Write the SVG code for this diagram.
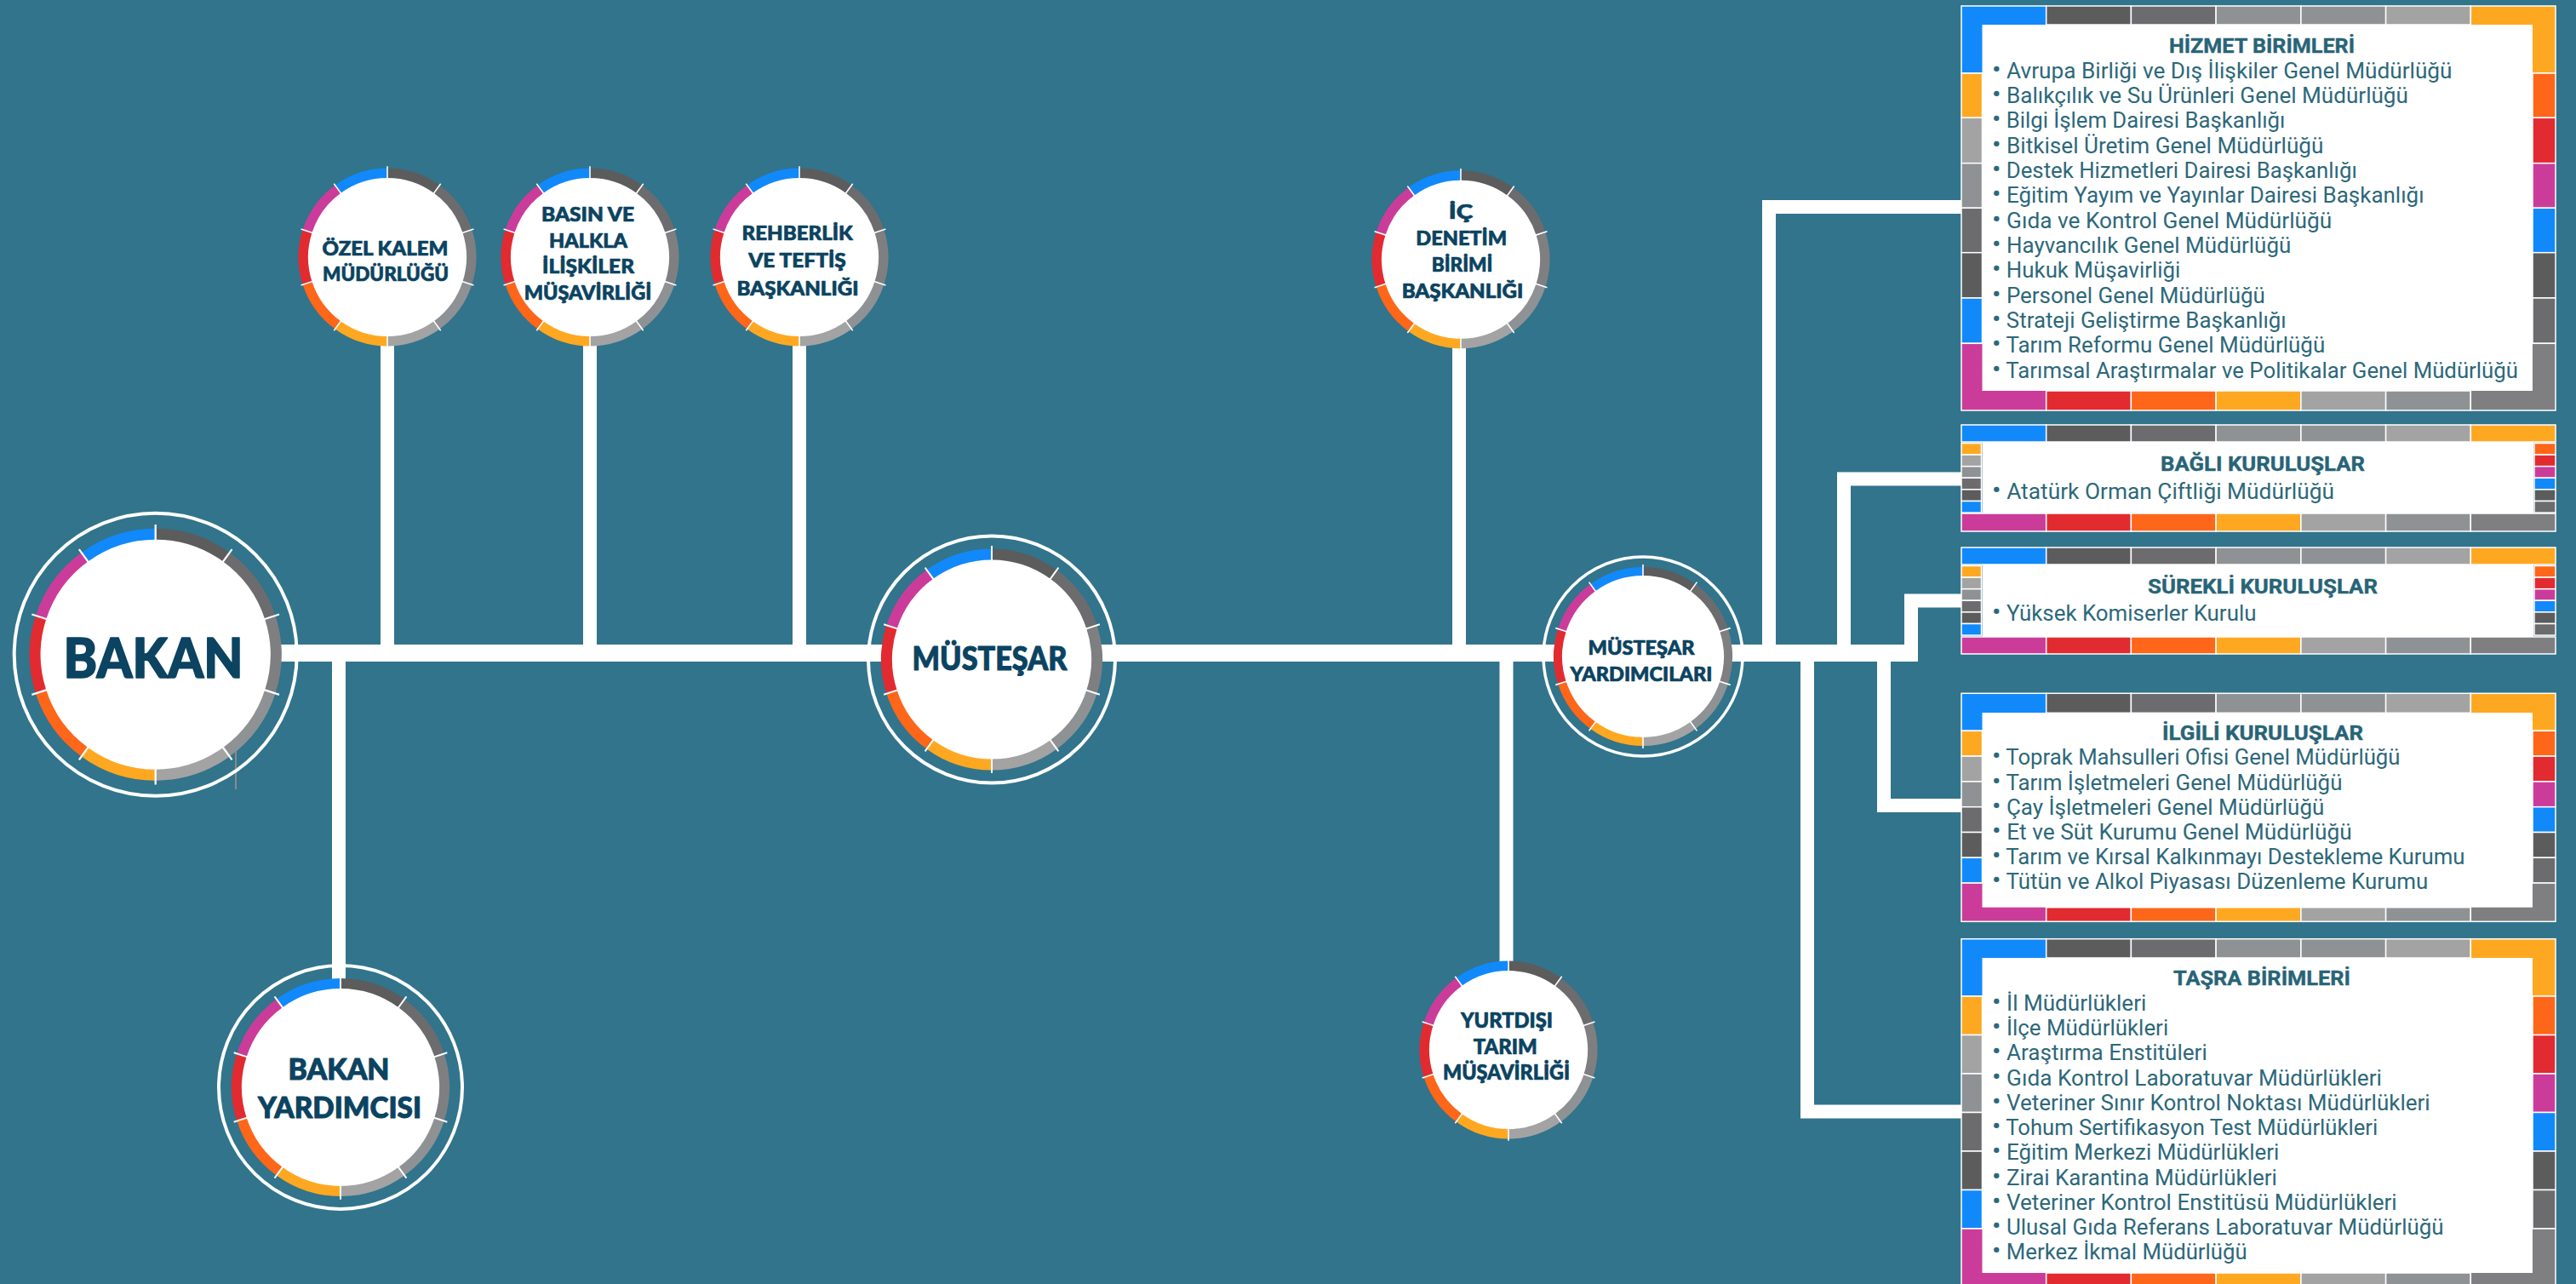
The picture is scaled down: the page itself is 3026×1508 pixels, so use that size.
<svg xmlns="http://www.w3.org/2000/svg" xmlns:xlink="http://www.w3.org/1999/xlink" width="3026" height="1508" viewBox="0 0 3026 1508">
<style>
.s0{stroke:#5c5c5d}.s1{stroke:#6c6c6e}.s2{stroke:#7f7f81}.s3{stroke:#8f9294}.s4{stroke:#a3a3a3}
.s5{stroke:#fea822}.s6{stroke:#fe661a}.s7{stroke:#e12b30}.s8{stroke:#cb3c9a}.s9{stroke:#1189fb}
.sep{stroke:#fff;stroke-width:1.6;fill:none}
.halo{fill:none;stroke:#fff}
.disc{fill:#fff}
.ln{fill:none;stroke:#fff;stroke-linejoin:miter;stroke-linecap:butt}
.ct{font-family:Lato,'Open Sans',sans-serif;font-weight:900;fill:#0b4361;stroke:#0b4361;stroke-width:0.7px;stroke-linejoin:round;text-anchor:middle}
.bt{font-family:'Liberation Sans Narrow',Roboto,'Liberation Sans',sans-serif;font-weight:700;fill:#286477;stroke:#286477;stroke-width:0.4px;text-anchor:middle;font-size:24px}
.it{font-family:'Liberation Sans Narrow',Roboto,'Liberation Sans',sans-serif;fill:#2d687a;font-size:25px}
.bu{font-size:30px}
.fr rect{stroke:#fff;stroke-width:1.5}
.fr rect.in{fill:#fff;stroke:none}
.B{fill:#1189fb}.D1{fill:#5c5c5d}.D2{fill:#6c6c6e}.G0{fill:#7f7f81}.G1{fill:#8f9294}.L{fill:#a3a3a3}
.Y{fill:#fea822}.O{fill:#fe661a}.R{fill:#e12b30}.M{fill:#cb3c9a}
</style>
<defs>
<g id="ring" fill="none">
<path class="s0" d="M0,-100A100,100 0 0 1 58.78,-80.9"/>
<path class="s1" d="M58.78,-80.9A100,100 0 0 1 95.11,-30.9"/>
<path class="s2" d="M95.11,-30.9A100,100 0 0 1 95.11,30.9"/>
<path class="s3" d="M95.11,30.9A100,100 0 0 1 58.78,80.9"/>
<path class="s4" d="M58.78,80.9A100,100 0 0 1 0,100"/>
<path class="s5" d="M0,100A100,100 0 0 1 -58.78,80.9"/>
<path class="s6" d="M-58.78,80.9A100,100 0 0 1 -95.11,30.9"/>
<path class="s7" d="M-95.11,30.9A100,100 0 0 1 -95.11,-30.9"/>
<path class="s8" d="M-95.11,-30.9A100,100 0 0 1 -58.78,-80.9"/>
<path class="s9" d="M-58.78,-80.9A100,100 0 0 1 0,-100"/>
<path class="sep" d="M0,-92V-108M54.08,-74.43L63.48,-87.37M87.5,-28.43L102.72,-33.37M87.5,28.43L102.72,33.37M54.08,74.43L63.48,87.37M0,92V108M-54.08,74.43L-63.48,87.37M-87.5,28.43L-102.72,33.37M-87.5,-28.43L-102.72,-33.37M-54.08,-74.43L-63.48,-87.37"/>
</g>
</defs>
<rect x="0" y="0" width="3026" height="1508" fill="#31748c"/>

<g id="connectors">
<path class="ln" stroke-width="20" d="M182,767H2253"/>
<path class="ln" stroke-width="16" d="M455,767V380M693,767V380M939,767V380M1714,767V380"/>
<path class="ln" stroke-width="16" d="M398,767V1160M1769.5,767V1140"/>
<path class="ln" stroke-width="16" d="M2078,777V243H2305"/>
<path class="ln" stroke-width="16" d="M2166,777V562.5H2305"/>
<path class="ln" stroke-width="16" d="M2245,777V705.5H2305"/>
<path class="ln" stroke-width="16" d="M2213,767V946H2305"/>
<path class="ln" stroke-width="16" d="M2123,767V1305.5H2305"/>
<path d="M277,878V927" stroke="#8a8a8a" stroke-width="2"/>
</g>

<g id="bakan">
<circle class="halo" cx="182.7" cy="768.7" r="166" stroke-width="4"/>
<circle class="disc" cx="182.7" cy="768.7" r="136"/>
<use xlink:href="#ring" transform="translate(182.7 768.7) scale(1.415)" style="stroke-width:9.2"/>
<text class="ct" x="180" y="796" font-size="65" style="stroke-width:1.6px" textLength="211" lengthAdjust="spacingAndGlyphs">BAKAN</text>
</g>

<g id="bakan-yardimcisi">
<circle class="halo" cx="400" cy="1277" r="143" stroke-width="4"/>
<circle class="disc" cx="400" cy="1277" r="117"/>
<use xlink:href="#ring" transform="translate(400 1277) scale(1.22)" style="stroke-width:9.8"/>
<text class="ct" x="398" y="1268.3" font-size="34" style="stroke-width:1px" textLength="119" lengthAdjust="spacingAndGlyphs">BAKAN</text>
<text class="ct" x="399" y="1313.3" font-size="34" style="stroke-width:1px" textLength="192" lengthAdjust="spacingAndGlyphs">YARDIMCISI</text>
</g>

<g id="ozel-kalem">
<circle class="disc" cx="455" cy="302" r="94"/>
<use xlink:href="#ring" transform="translate(455 302) scale(0.9875)" style="stroke-width:11.6"/>
<text class="ct" x="452.5" y="300" font-size="23" textLength="148" lengthAdjust="spacingAndGlyphs">ÖZEL KALEM</text>
<text class="ct" x="453" y="330" font-size="23" textLength="148" lengthAdjust="spacingAndGlyphs">MÜDÜRLÜĞÜ</text>
</g>

<g id="basin">
<circle class="disc" cx="693" cy="302" r="94"/>
<use xlink:href="#ring" transform="translate(693 302) scale(0.9875)" style="stroke-width:11.6"/>
<text class="ct" x="690.5" y="260" font-size="23" textLength="109" lengthAdjust="spacingAndGlyphs">BASIN VE</text>
<text class="ct" x="691" y="290.6" font-size="23" textLength="92" lengthAdjust="spacingAndGlyphs">HALKLA</text>
<text class="ct" x="691" y="321.2" font-size="23" textLength="108" lengthAdjust="spacingAndGlyphs">İLİŞKİLER</text>
<text class="ct" x="690.5" y="351.8" font-size="23" textLength="149.6" lengthAdjust="spacingAndGlyphs">MÜŞAVİRLİĞİ</text>
</g>

<g id="rehberlik">
<circle class="disc" cx="939" cy="302" r="94"/>
<use xlink:href="#ring" transform="translate(939 302) scale(0.9875)" style="stroke-width:11.6"/>
<text class="ct" x="936.7" y="281.7" font-size="23" textLength="130.4" lengthAdjust="spacingAndGlyphs">REHBERLİK</text>
<text class="ct" x="936.5" y="314.3" font-size="23" textLength="114.7" lengthAdjust="spacingAndGlyphs">VE TEFTİŞ</text>
<text class="ct" x="937" y="346.7" font-size="23" textLength="143" lengthAdjust="spacingAndGlyphs">BAŞKANLIĞI</text>
</g>

<g id="mustesar">
<circle class="halo" cx="1165" cy="774.5" r="145" stroke-width="4"/>
<circle class="disc" cx="1165" cy="774.5" r="118"/>
<use xlink:href="#ring" transform="translate(1165 774.5) scale(1.235)" style="stroke-width:10.5"/>
<text class="ct" x="1162.5" y="786.7" font-size="37" style="stroke-width:1px" textLength="182" lengthAdjust="spacingAndGlyphs">MÜSTEŞAR</text>
</g>

<g id="ic-denetim">
<circle class="disc" cx="1716" cy="304.7" r="94"/>
<use xlink:href="#ring" transform="translate(1716 304.7) scale(0.9875)" style="stroke-width:11.6"/>
<text class="ct" x="1716" y="257.3" font-size="23" textLength="28.3" lengthAdjust="spacingAndGlyphs">İÇ</text>
<text class="ct" x="1716.7" y="288.2" font-size="23" textLength="106.7" lengthAdjust="spacingAndGlyphs">DENETİM</text>
<text class="ct" x="1717.5" y="319.1" font-size="23" textLength="71.7" lengthAdjust="spacingAndGlyphs">BİRİMİ</text>
<text class="ct" x="1718" y="350" font-size="23" textLength="142.7" lengthAdjust="spacingAndGlyphs">BAŞKANLIĞI</text>
</g>

<g id="yurtdisi">
<circle class="disc" cx="1772" cy="1233" r="94"/>
<use xlink:href="#ring" transform="translate(1772 1233) scale(0.9875)" style="stroke-width:11.6"/>
<text class="ct" x="1770" y="1207.3" font-size="24" textLength="108" lengthAdjust="spacingAndGlyphs">YURTDIŞI</text>
<text class="ct" x="1768.2" y="1238.3" font-size="24" textLength="75" lengthAdjust="spacingAndGlyphs">TARIM</text>
<text class="ct" x="1769.5" y="1268.3" font-size="24" textLength="149" lengthAdjust="spacingAndGlyphs">MÜŞAVİRLİĞİ</text>
</g>

<g id="mustesar-yardimcilari">
<circle class="halo" cx="1930" cy="771" r="117" stroke-width="3.5"/>
<circle class="disc" cx="1930" cy="771" r="96"/>
<use xlink:href="#ring" transform="translate(1930 771)" style="stroke-width:10"/>
<text class="ct" x="1928" y="769.3" font-size="22.5" textLength="125" lengthAdjust="spacingAndGlyphs">MÜSTEŞAR</text>
<text class="ct" x="1928" y="800" font-size="22.5" textLength="167" lengthAdjust="spacingAndGlyphs">YARDIMCILARI</text>
</g>

<g id="hizmet-birimleri" class="fr">
<rect class="B" x="2304" y="7" width="99.7" height="79"/>
<rect class="D1" x="2403.7" y="7" width="99.7" height="22"/>
<rect class="D2" x="2503.4" y="7" width="99.7" height="22"/>
<rect class="G1" x="2603.1" y="7" width="99.7" height="22"/>
<rect class="G1" x="2702.9" y="7" width="99.7" height="22"/>
<rect class="L" x="2802.6" y="7" width="99.7" height="22"/>
<rect class="Y" x="2902.3" y="7" width="99.7" height="79"/>
<rect class="Y" x="2304" y="86" width="24.5" height="52.3"/>
<rect class="L" x="2304" y="138.3" width="24.5" height="53.4"/>
<rect class="G1" x="2304" y="191.7" width="24.5" height="52.6"/>
<rect class="D2" x="2304" y="244.3" width="24.5" height="52.4"/>
<rect class="D1" x="2304" y="296.7" width="24.5" height="53.3"/>
<rect class="B" x="2304" y="350" width="24.5" height="53.3"/>
<rect class="O" x="2975" y="86" width="27" height="52.3"/>
<rect class="R" x="2975" y="138.3" width="27" height="53.4"/>
<rect class="M" x="2975" y="191.7" width="27" height="52.6"/>
<rect class="B" x="2975" y="244.3" width="27" height="52.4"/>
<rect class="D1" x="2975" y="296.7" width="27" height="53.3"/>
<rect class="D2" x="2975" y="350" width="27" height="53.3"/>
<rect class="M" x="2304" y="403.3" width="99.7" height="78.7"/>
<rect class="R" x="2403.7" y="459" width="99.7" height="23"/>
<rect class="O" x="2503.4" y="459" width="99.7" height="23"/>
<rect class="Y" x="2603.1" y="459" width="99.7" height="23"/>
<rect class="L" x="2702.9" y="459" width="99.7" height="23"/>
<rect class="G1" x="2802.6" y="459" width="99.7" height="23"/>
<rect class="G0" x="2902.3" y="403.3" width="99.7" height="78.7"/>
<rect class="in" x="2328.5" y="29" width="646.5" height="430"/>
<text class="bt" x="2657" y="61.7" textLength="218" lengthAdjust="spacingAndGlyphs">HİZMET BİRİMLERİ</text>
<text class="it" x="2340" y="91.7" textLength="540.5" lengthAdjust="spacingAndGlyphs"><tspan class="bu">•</tspan> Avrupa Birliği ve Dış İlişkiler Genel Müdürlüğü</text>
<text class="it" x="2340" y="121" textLength="488.9" lengthAdjust="spacingAndGlyphs"><tspan class="bu">•</tspan> Balıkçılık ve Su Ürünleri Genel Müdürlüğü</text>
<text class="it" x="2340" y="150.4" textLength="344.3" lengthAdjust="spacingAndGlyphs"><tspan class="bu">•</tspan> Bilgi İşlem Dairesi Başkanlığı</text>
<text class="it" x="2340" y="179.7" textLength="389.4" lengthAdjust="spacingAndGlyphs"><tspan class="bu">•</tspan> Bitkisel Üretim Genel Müdürlüğü</text>
<text class="it" x="2340" y="209" textLength="428.8" lengthAdjust="spacingAndGlyphs"><tspan class="bu">•</tspan> Destek Hizmetleri Dairesi Başkanlığı</text>
<text class="it" x="2340" y="238.4" textLength="507.6" lengthAdjust="spacingAndGlyphs"><tspan class="bu">•</tspan> Eğitim Yayım ve Yayınlar Dairesi Başkanlığı</text>
<text class="it" x="2340" y="267.7" textLength="399.2" lengthAdjust="spacingAndGlyphs"><tspan class="bu">•</tspan> Gıda ve Kontrol Genel Müdürlüğü</text>
<text class="it" x="2340" y="297" textLength="351.3" lengthAdjust="spacingAndGlyphs"><tspan class="bu">•</tspan> Hayvancılık Genel Müdürlüğü</text>
<text class="it" x="2340" y="326.3" textLength="221.3" lengthAdjust="spacingAndGlyphs"><tspan class="bu">•</tspan> Hukuk Müşavirliği</text>
<text class="it" x="2340" y="355.7" textLength="320.8" lengthAdjust="spacingAndGlyphs"><tspan class="bu">•</tspan> Personel Genel Müdürlüğü</text>
<text class="it" x="2340" y="385" textLength="345.7" lengthAdjust="spacingAndGlyphs"><tspan class="bu">•</tspan> Strateji Geliştirme Başkanlığı</text>
<text class="it" x="2340" y="414.3" textLength="391.2" lengthAdjust="spacingAndGlyphs"><tspan class="bu">•</tspan> Tarım Reformu Genel Müdürlüğü</text>
<text class="it" x="2340" y="443.7" textLength="618" lengthAdjust="spacingAndGlyphs"><tspan class="bu">•</tspan> Tarımsal Araştırmalar ve Politikalar Genel Müdürlüğü</text>
</g>

<g id="bagli-kuruluslar" class="fr">
<rect class="B" x="2304" y="499" width="99.7" height="20"/>
<rect class="D1" x="2403.7" y="499" width="99.7" height="20"/>
<rect class="D2" x="2503.4" y="499" width="99.7" height="20"/>
<rect class="G1" x="2603.1" y="499" width="99.7" height="20"/>
<rect class="G1" x="2702.9" y="499" width="99.7" height="20"/>
<rect class="L" x="2802.6" y="499" width="99.7" height="20"/>
<rect class="Y" x="2902.3" y="499" width="99.7" height="20"/>
<rect class="Y" x="2304" y="520.5" width="23.5" height="13.6"/>
<rect class="L" x="2304" y="534.1" width="23.5" height="13.6"/>
<rect class="G1" x="2304" y="547.7" width="23.5" height="13.6"/>
<rect class="D2" x="2304" y="561.3" width="23.5" height="13.6"/>
<rect class="D1" x="2304" y="574.9" width="23.5" height="13.6"/>
<rect class="B" x="2304" y="588.5" width="23.5" height="13.6"/>
<rect class="O" x="2977" y="520.5" width="25" height="13.6"/>
<rect class="R" x="2977" y="534.1" width="25" height="13.6"/>
<rect class="M" x="2977" y="547.7" width="25" height="13.6"/>
<rect class="B" x="2977" y="561.3" width="25" height="13.6"/>
<rect class="D1" x="2977" y="574.9" width="25" height="13.6"/>
<rect class="D2" x="2977" y="588.5" width="25" height="13.6"/>
<rect class="M" x="2304" y="603" width="99.7" height="21"/>
<rect class="R" x="2403.7" y="603" width="99.7" height="21"/>
<rect class="O" x="2503.4" y="603" width="99.7" height="21"/>
<rect class="Y" x="2603.1" y="603" width="99.7" height="21"/>
<rect class="L" x="2702.9" y="603" width="99.7" height="21"/>
<rect class="G1" x="2802.6" y="603" width="99.7" height="21"/>
<rect class="G0" x="2902.3" y="603" width="99.7" height="21"/>
<rect class="in" x="2328.5" y="519" width="647.5" height="84"/>
<text class="bt" x="2658" y="553.3" textLength="240" lengthAdjust="spacingAndGlyphs">BAĞLI KURULUŞLAR</text>
<text class="it" x="2340" y="586" textLength="402" lengthAdjust="spacingAndGlyphs"><tspan class="bu">•</tspan> Atatürk Orman Çiftliği Müdürlüğü</text>
</g>

<g id="surekli-kuruluslar" class="fr">
<rect class="B" x="2304" y="643" width="99.7" height="20"/>
<rect class="D1" x="2403.7" y="643" width="99.7" height="20"/>
<rect class="D2" x="2503.4" y="643" width="99.7" height="20"/>
<rect class="G1" x="2603.1" y="643" width="99.7" height="20"/>
<rect class="G1" x="2702.9" y="643" width="99.7" height="20"/>
<rect class="L" x="2802.6" y="643" width="99.7" height="20"/>
<rect class="Y" x="2902.3" y="643" width="99.7" height="20"/>
<rect class="Y" x="2304" y="664.5" width="23.5" height="13.6"/>
<rect class="L" x="2304" y="678.1" width="23.5" height="13.6"/>
<rect class="G1" x="2304" y="691.7" width="23.5" height="13.6"/>
<rect class="D2" x="2304" y="705.3" width="23.5" height="13.6"/>
<rect class="D1" x="2304" y="718.9" width="23.5" height="13.6"/>
<rect class="B" x="2304" y="732.5" width="23.5" height="13.6"/>
<rect class="O" x="2977" y="664.5" width="25" height="13.6"/>
<rect class="R" x="2977" y="678.1" width="25" height="13.6"/>
<rect class="M" x="2977" y="691.7" width="25" height="13.6"/>
<rect class="B" x="2977" y="705.3" width="25" height="13.6"/>
<rect class="D1" x="2977" y="718.9" width="25" height="13.6"/>
<rect class="D2" x="2977" y="732.5" width="25" height="13.6"/>
<rect class="M" x="2304" y="748" width="99.7" height="20"/>
<rect class="R" x="2403.7" y="748" width="99.7" height="20"/>
<rect class="O" x="2503.4" y="748" width="99.7" height="20"/>
<rect class="Y" x="2603.1" y="748" width="99.7" height="20"/>
<rect class="L" x="2702.9" y="748" width="99.7" height="20"/>
<rect class="G1" x="2802.6" y="748" width="99.7" height="20"/>
<rect class="G0" x="2902.3" y="748" width="99.7" height="20"/>
<rect class="in" x="2328.5" y="663" width="647.5" height="85"/>
<text class="bt" x="2658" y="697.3" textLength="270" lengthAdjust="spacingAndGlyphs">SÜREKLİ KURULUŞLAR</text>
<text class="it" x="2340" y="729.3" textLength="310.5" lengthAdjust="spacingAndGlyphs"><tspan class="bu">•</tspan> Yüksek Komiserler Kurulu</text>
</g>

<g id="ilgili-kuruluslar" class="fr">
<rect class="B" x="2304" y="814.3" width="99.7" height="44"/>
<rect class="D1" x="2403.7" y="814.3" width="99.7" height="23"/>
<rect class="D2" x="2503.4" y="814.3" width="99.7" height="23"/>
<rect class="G1" x="2603.1" y="814.3" width="99.7" height="23"/>
<rect class="G1" x="2702.9" y="814.3" width="99.7" height="23"/>
<rect class="L" x="2802.6" y="814.3" width="99.7" height="23"/>
<rect class="Y" x="2902.3" y="814.3" width="99.7" height="44"/>
<rect class="Y" x="2304" y="858.3" width="24.5" height="29.8"/>
<rect class="L" x="2304" y="888.1" width="24.5" height="29.8"/>
<rect class="G1" x="2304" y="917.9" width="24.5" height="29.8"/>
<rect class="D2" x="2304" y="947.7" width="24.5" height="29.8"/>
<rect class="D1" x="2304" y="977.5" width="24.5" height="29.8"/>
<rect class="B" x="2304" y="1007.3" width="24.5" height="29.8"/>
<rect class="O" x="2975" y="858.3" width="27" height="29.8"/>
<rect class="R" x="2975" y="888.1" width="27" height="29.8"/>
<rect class="M" x="2975" y="917.9" width="27" height="29.8"/>
<rect class="B" x="2975" y="947.7" width="27" height="29.8"/>
<rect class="D1" x="2975" y="977.5" width="27" height="29.8"/>
<rect class="D2" x="2975" y="1007.3" width="27" height="29.8"/>
<rect class="M" x="2304" y="1037.1" width="99.7" height="45.2"/>
<rect class="R" x="2403.7" y="1065.7" width="99.7" height="16.6"/>
<rect class="O" x="2503.4" y="1065.7" width="99.7" height="16.6"/>
<rect class="Y" x="2603.1" y="1065.7" width="99.7" height="16.6"/>
<rect class="L" x="2702.9" y="1065.7" width="99.7" height="16.6"/>
<rect class="G1" x="2802.6" y="1065.7" width="99.7" height="16.6"/>
<rect class="G0" x="2902.3" y="1037.1" width="99.7" height="45.2"/>
<rect class="in" x="2328.5" y="837" width="646.5" height="228.7"/>
<text class="bt" x="2658" y="869.3" textLength="236" lengthAdjust="spacingAndGlyphs">İLGİLİ KURULUŞLAR</text>
<text class="it" x="2340" y="898.3" textLength="479.5" lengthAdjust="spacingAndGlyphs"><tspan class="bu">•</tspan> Toprak Mahsulleri Ofisi Genel Müdürlüğü</text>
<text class="it" x="2340" y="927.5" textLength="411.4" lengthAdjust="spacingAndGlyphs"><tspan class="bu">•</tspan> Tarım İşletmeleri Genel Müdürlüğü</text>
<text class="it" x="2340" y="956.7" textLength="390.3" lengthAdjust="spacingAndGlyphs"><tspan class="bu">•</tspan> Çay İşletmeleri Genel Müdürlüğü</text>
<text class="it" x="2340" y="985.9" textLength="422.7" lengthAdjust="spacingAndGlyphs"><tspan class="bu">•</tspan> Et ve Süt Kurumu Genel Müdürlüğü</text>
<text class="it" x="2340" y="1015.1" textLength="555.5" lengthAdjust="spacingAndGlyphs"><tspan class="bu">•</tspan> Tarım ve Kırsal Kalkınmayı Destekleme Kurumu</text>
<text class="it" x="2340" y="1044.3" textLength="512.3" lengthAdjust="spacingAndGlyphs"><tspan class="bu">•</tspan> Tütün ve Alkol Piyasası Düzenleme Kurumu</text>
</g>

<g id="tasra-birimleri" class="fr">
<rect class="B" x="2304" y="1102.7" width="99.7" height="67.3"/>
<rect class="D1" x="2403.7" y="1102.7" width="99.7" height="22.3"/>
<rect class="D2" x="2503.4" y="1102.7" width="99.7" height="22.3"/>
<rect class="G1" x="2603.1" y="1102.7" width="99.7" height="22.3"/>
<rect class="G1" x="2702.9" y="1102.7" width="99.7" height="22.3"/>
<rect class="L" x="2802.6" y="1102.7" width="99.7" height="22.3"/>
<rect class="Y" x="2902.3" y="1102.7" width="99.7" height="67.3"/>
<rect class="Y" x="2304" y="1170" width="24.5" height="45.5"/>
<rect class="L" x="2304" y="1215.5" width="24.5" height="45.5"/>
<rect class="G1" x="2304" y="1261" width="24.5" height="45.5"/>
<rect class="D2" x="2304" y="1306.5" width="24.5" height="45.5"/>
<rect class="D1" x="2304" y="1352" width="24.5" height="45.5"/>
<rect class="B" x="2304" y="1397.5" width="24.5" height="45.5"/>
<rect class="O" x="2975" y="1170" width="27" height="45.5"/>
<rect class="R" x="2975" y="1215.5" width="27" height="45.5"/>
<rect class="M" x="2975" y="1261" width="27" height="45.5"/>
<rect class="B" x="2975" y="1306.5" width="27" height="45.5"/>
<rect class="D1" x="2975" y="1352" width="27" height="45.5"/>
<rect class="D2" x="2975" y="1397.5" width="27" height="45.5"/>
<rect class="M" x="2304" y="1443" width="99.7" height="75"/>
<rect class="R" x="2403.7" y="1495" width="99.7" height="23"/>
<rect class="O" x="2503.4" y="1495" width="99.7" height="23"/>
<rect class="Y" x="2603.1" y="1495" width="99.7" height="23"/>
<rect class="L" x="2702.9" y="1495" width="99.7" height="23"/>
<rect class="G1" x="2802.6" y="1495" width="99.7" height="23"/>
<rect class="G0" x="2902.3" y="1443" width="99.7" height="75"/>
<rect class="in" x="2328.5" y="1125" width="646.5" height="370"/>
<text class="bt" x="2657" y="1156.7" textLength="208" lengthAdjust="spacingAndGlyphs">TAŞRA BİRİMLERİ</text>
<text class="it" x="2340" y="1186.7" textLength="181.4" lengthAdjust="spacingAndGlyphs"><tspan class="bu">•</tspan> İl Müdürlükleri</text>
<text class="it" x="2340" y="1216" textLength="207.2" lengthAdjust="spacingAndGlyphs"><tspan class="bu">•</tspan> İlçe Müdürlükleri</text>
<text class="it" x="2340" y="1245.2" textLength="252.8" lengthAdjust="spacingAndGlyphs"><tspan class="bu">•</tspan> Araştırma Enstitüleri</text>
<text class="it" x="2340" y="1274.5" textLength="457.9" lengthAdjust="spacingAndGlyphs"><tspan class="bu">•</tspan> Gıda Kontrol Laboratuvar Müdürlükleri</text>
<text class="it" x="2340" y="1303.8" textLength="514.7" lengthAdjust="spacingAndGlyphs"><tspan class="bu">•</tspan> Veteriner Sınır Kontrol Noktası Müdürlükleri</text>
<text class="it" x="2340" y="1333" textLength="453.2" lengthAdjust="spacingAndGlyphs"><tspan class="bu">•</tspan> Tohum Sertifikasyon Test Müdürlükleri</text>
<text class="it" x="2340" y="1362.3" textLength="337.3" lengthAdjust="spacingAndGlyphs"><tspan class="bu">•</tspan> Eğitim Merkezi Müdürlükleri</text>
<text class="it" x="2340" y="1391.6" textLength="334.9" lengthAdjust="spacingAndGlyphs"><tspan class="bu">•</tspan> Zirai Karantina Müdürlükleri</text>
<text class="it" x="2340" y="1420.9" textLength="475.7" lengthAdjust="spacingAndGlyphs"><tspan class="bu">•</tspan> Veteriner Kontrol Enstitüsü Müdürlükleri</text>
<text class="it" x="2340" y="1450.1" textLength="530.6" lengthAdjust="spacingAndGlyphs"><tspan class="bu">•</tspan> Ulusal Gıda Referans Laboratuvar Müdürlüğü</text>
<text class="it" x="2340" y="1479.4" textLength="299.7" lengthAdjust="spacingAndGlyphs"><tspan class="bu">•</tspan> Merkez İkmal Müdürlüğü</text>
</g>
</svg>
